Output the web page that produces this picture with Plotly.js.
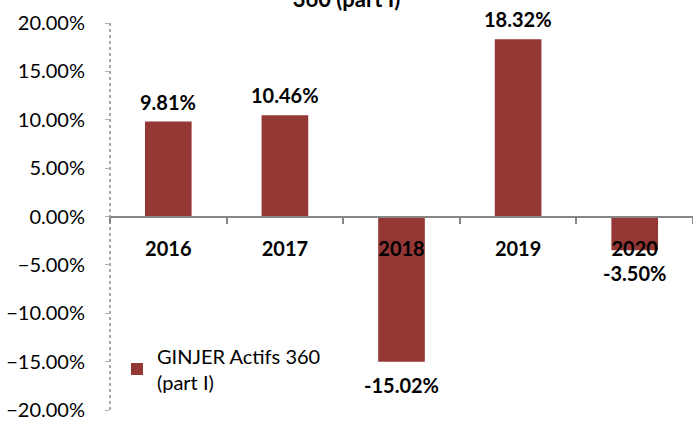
<!DOCTYPE html>
<html>
<head>
<meta charset="utf-8">
<script src="https://cdn.plot.ly/plotly-3.0.1.min.js"></script>
<style>html,body{margin:0;padding:0;background:#fff;}#chart{width:693px;height:422px;}</style>
</head>
<body>
<div id="chart"></div>
<script>
const categories = ['2016', '2017', '2018', '2019', '2020'];
const values = [0.0981, 0.1046, -0.1502, 0.1832, -0.0350];
const labels = ['9.81%', '10.46%', '-15.02%', '18.32%', '-3.50%'];
const seriesName = 'GINJER Actifs 360<br>(part I)';
const titleText = 'GINJER Actifs<br>360 (part I)';

const FONT = 'Lato, "Open Sans", sans-serif';

const annotations = categories.map((c, i) => ({
  x: i, y: values[i], xref: 'x', yref: 'y',
  text: '<b>' + labels[i] + '</b>', showarrow: false,
  yshift: values[i] >= 0 ? 20 : -23,
  font: {family: FONT, size: 20, color: '#000'}
}));

const trace = {
  type: 'bar', x: categories, y: values, name: seriesName,
  marker: {color: '#953735'}, showlegend: true,
  hoverinfo: 'none'
};

const layout = {
  width: 693, height: 422,
  margin: {l: 110, r: 0, t: 23, b: 12},
  paper_bgcolor: '#fff', plot_bgcolor: '#fff',
  font: {family: FONT, color: '#000'},
  showlegend: true,
  title: {text: titleText, xref: 'container', x: 0.5, xanchor: 'center',
          yref: 'container', y: 1, yanchor: 'bottom', pad: {b: 22},
          font: {family: FONT, size: 22, color: '#000', weight: 'bold'}},
  xaxis: {
    type: 'category', range: [-0.5, 4.5], anchor: 'free', position: 0.5,
    showline: true, linecolor: '#868686', linewidth: 2,
    ticks: 'outside', tickson: 'boundaries', ticklen: 6, tickcolor: '#868686', tickwidth: 2,
    ticklabelstandoff: 14, tickangle: 0,
    tickfont: {family: FONT, size: 20, color: '#000', weight: 'bold'},
    showgrid: false, zeroline: false, fixedrange: true
  },
  yaxis: {
    range: [-0.2, 0.2], dtick: 0.05, tick0: 0, tickformat: '.2%',
    showline: false, showgrid: false, zeroline: false,
    ticks: 'outside', ticklen: 4, tickcolor: '#b0b0b0', tickwidth: 1,
    ticklabelstandoff: 16,
    tickfont: {family: FONT, size: 20, color: '#000'}, fixedrange: true
  },
  shapes: [{type: 'line', xref: 'paper', yref: 'paper', x0: 0, x1: 0, y0: 0, y1: 1,
            line: {color: '#8a8a8a', width: 1.5, dash: 'dot'}}],
  legend: {x: 0.012, y: 0.19, xanchor: 'left', yanchor: 'top', bgcolor: 'rgba(0,0,0,0)',
           font: {family: FONT, size: 20, color: '#000'}, itemwidth: 30},
  annotations: annotations,
  bargap: 0.6
};

Plotly.newPlot('chart', [trace], layout, {displayModeBar: false, staticPlot: true});
</script>
</body>
</html>
